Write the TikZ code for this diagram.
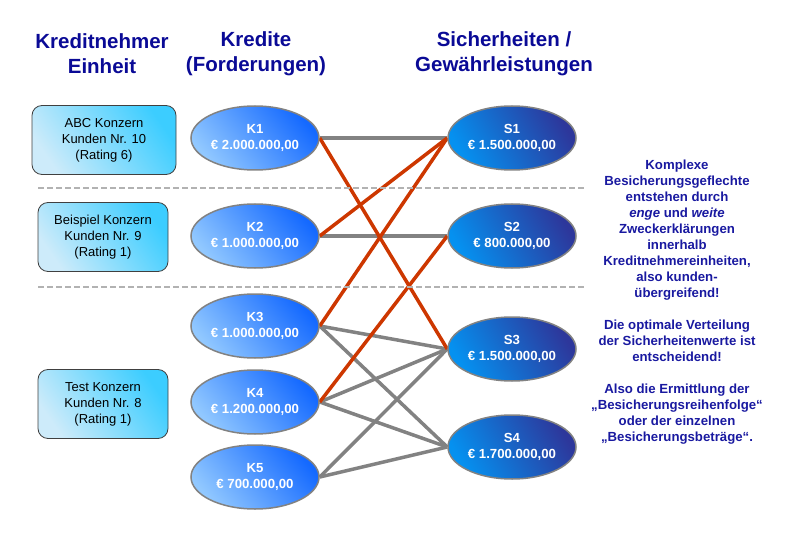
\documentclass[tikz,border=0pt]{standalone}
\usepackage{fontspec}
\setmainfont{Liberation Sans}
\usetikzlibrary{shapes.geometric,backgrounds}
\definecolor{titelblau}{RGB}{10,10,150}
\definecolor{textblau}{RGB}{25,25,160}
\definecolor{linkrot}{RGB}{205,55,0}
\definecolor{linkgrau}{RGB}{130,130,130}

\begin{document}
\begin{tikzpicture}[x=1pt,y=-1pt,
  titel/.style={text=titelblau,align=center,font=\fontsize{20.5}{25}\selectfont\bfseries},
  einheit/.style={draw=black!75,line width=0.8pt,rounded corners=10pt,minimum height=69pt,
    shading=axis,top color={rgb,255:red,60;green,205;blue,255},bottom color={rgb,255:red,205;green,235;blue,250},
    shading angle=-55,align=center,font=\fontsize{13}{16}\selectfont},
  kredit/.style={ellipse,draw=linkgrau,line width=1.5pt,minimum width=128pt,minimum height=64pt,inner sep=0pt,
    shading=axis,top color={rgb,255:red,20;green,105;blue,255},bottom color={rgb,255:red,145;green,200;blue,255},
    shading angle=-50,text=white,align=center,font=\fontsize{13.2}{16}\selectfont\bfseries},
  sicher/.style={kredit,top color={rgb,255:red,45;green,55;blue,155},bottom color={rgb,255:red,5;green,145;blue,240},
    shading angle=-60},
  grau/.style={draw=linkgrau,line width=3.5pt},
  rot/.style={draw=linkrot,line width=3.5pt},
  trenner/.style={draw=black!30,line width=1.5pt,dash pattern=on 6pt off 3pt}]
\useasboundingbox (0,0) rectangle (795,540);

% Ueberschriften
\node[titel] (hE) at (102,54) {Kreditnehmer\\Einheit};
\node[titel] (hK) at (256,54) {Kredite\\(Forderungen)};
\node[titel] (hS) at (504,54) {Sicherheiten /\\Gew\"ahrleistungen};

% Trennlinien
\draw[trenner] (38,188) -- (584,188);
\draw[trenner] (38,287) -- (584,287);

% Kreditnehmer
\node[einheit,minimum width=144pt] (e1) at (104,140) {ABC Konzern\\Kunden Nr. 10\\(Rating 6)};
\node[einheit,minimum width=130pt] (e2) at (103,237) {Beispiel Konzern\\Kunden Nr. 9\\(Rating 1)};
\node[einheit,minimum width=130pt] (e3) at (103,404) {Test Konzern\\Kunden Nr. 8\\(Rating 1)};

% Kredite
\node[kredit] (k1) at (255,138) {K1\\\texteuro{} 2.000.000,00};
\node[kredit] (k2) at (255,236) {K2\\\texteuro{} 1.000.000,00};
\node[kredit] (k3) at (255,326) {K3\\\texteuro{} 1.000.000,00};
\node[kredit] (k4) at (255,402) {K4\\\texteuro{} 1.200.000,00};
\node[kredit] (k5) at (255,477) {K5\\\texteuro{} 700.000,00};

% Sicherheiten
\node[sicher] (s1) at (512,138) {S1\\\texteuro{} 1.500.000,00};
\node[sicher] (s2) at (512,236) {S2\\\texteuro{} 800.000,00};
\node[sicher] (s3) at (512,349) {S3\\\texteuro{} 1.500.000,00};
\node[sicher] (s4) at (512,447) {S4\\\texteuro{} 1.700.000,00};

\begin{scope}[on background layer]
\draw[grau] (k1.east) -- (s1.west);
\draw[grau] (k2.east) -- (s2.west);
\draw[grau] (k3.east) -- (s3.west);
\draw[grau] (k3.east) -- (s4.west);
\draw[grau] (k4.east) -- (s3.west);
\draw[grau] (k4.east) -- (s4.west);
\draw[grau] (k5.east) -- (s3.west);
\draw[grau] (k5.east) -- (s4.west);
\draw[rot] (k1.east) -- (s3.west);
\draw[rot] (k2.east) -- (s1.west);
\draw[rot] (k3.east) -- (s1.west);
\draw[rot] (k4.east) -- (s2.west);
\end{scope}

% Erlaeuterung
\node[text=textblau,align=center,font=\fontsize{13.2}{16}\selectfont\bfseries] (t) at (677,302)
  {Komplexe\\Besicherungsgeflechte\\entstehen durch\\\textit{enge} und \textit{weite}\\Zweckerkl\"arungen\\innerhalb\\Kreditnehmereinheiten,\\also kunden-\\\"ubergreifend!\\[16pt]
   Die optimale Verteilung\\der Sicherheitenwerte ist\\entscheidend!\\[16pt]
   Also die Ermittlung der\\\quotedblbase Besicherungsreihenfolge\textquotedblleft\\oder der einzelnen\\\quotedblbase Besicherungsbetr\"age\textquotedblleft.};
\end{tikzpicture}
\end{document}
